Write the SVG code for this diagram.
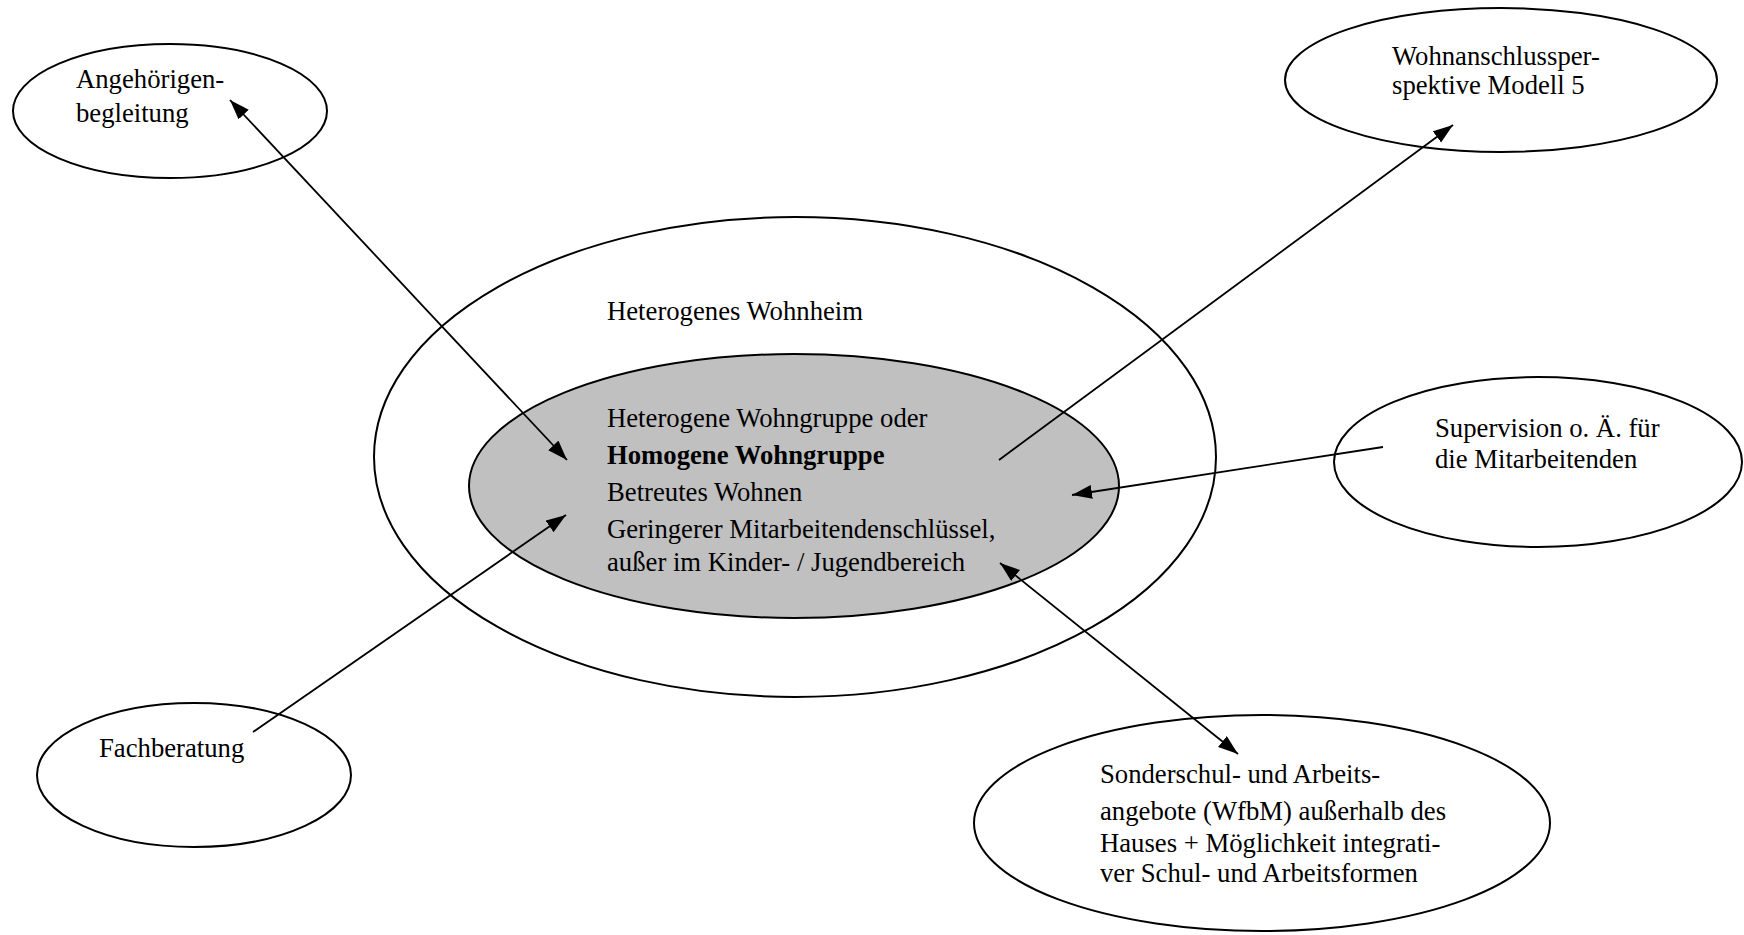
<svg xmlns="http://www.w3.org/2000/svg" width="1744" height="935" viewBox="0 0 1744 935">
  <style>
    .shape { fill: #ffffff; stroke: #000000; stroke-width: 2; }
    .core { fill: #c0c0c0; stroke: #000000; stroke-width: 2; }
    .label { font-family: "Liberation Serif", "Times New Roman", serif; font-size: 26.7px; fill: #000000; }
    .bold { font-weight: bold; }
    .link { stroke: #000000; stroke-width: 1.8; fill: none; }
  </style>
  <defs>
    <marker id="head" markerUnits="userSpaceOnUse" markerWidth="22" markerHeight="16" refX="20" refY="7" orient="auto-start-reverse">
      <path d="M0,0 L20,7 L0,14 z" fill="#000000"/>
    </marker>
  </defs>
  <rect width="1744" height="935" fill="#ffffff"/>

  <!-- central residence: outer home and inner group -->
  <g id="wohnheim">
    <ellipse class="shape" cx="795" cy="457" rx="421" ry="240"/>
    <text class="label" x="607" y="320">Heterogenes Wohnheim</text>
  </g>
  <g id="wohngruppe">
    <ellipse class="core" cx="794" cy="486" rx="325" ry="132"/>
    <text class="label" x="607" y="427">Heterogene Wohngruppe oder</text>
    <text class="label bold" x="607" y="464">Homogene Wohngruppe</text>
    <text class="label" x="607" y="501">Betreutes Wohnen</text>
    <text class="label" x="607" y="538">Geringerer Mitarbeitendenschlüssel,</text>
    <text class="label" x="607" y="571">außer im Kinder- / Jugendbereich</text>
  </g>

  <!-- surrounding services -->
  <g id="angehoerige">
    <ellipse class="shape" cx="170" cy="111" rx="157" ry="67"/>
    <text class="label" x="76" y="88">Angehörigen-</text>
    <text class="label" x="76" y="122">begleitung</text>
  </g>
  <g id="wohnanschluss">
    <ellipse class="shape" cx="1501" cy="80" rx="216" ry="72"/>
    <text class="label" x="1392" y="65">Wohnanschlussper-</text>
    <text class="label" x="1392" y="94">spektive Modell 5</text>
  </g>
  <g id="supervision">
    <ellipse class="shape" cx="1538" cy="462" rx="204" ry="85"/>
    <text class="label" x="1435" y="437">Supervision o. Ä. für</text>
    <text class="label" x="1435" y="468">die Mitarbeitenden</text>
  </g>
  <g id="fachberatung">
    <ellipse class="shape" cx="194" cy="775" rx="157" ry="72"/>
    <text class="label" x="99" y="757">Fachberatung</text>
  </g>
  <g id="sonderschule">
    <ellipse class="shape" cx="1262" cy="823" rx="288" ry="108"/>
    <text class="label" x="1100" y="783">Sonderschul- und Arbeits-</text>
    <text class="label" x="1100" y="820">angebote (WfbM) außerhalb des</text>
    <text class="label" x="1100" y="852">Hauses + Möglichkeit integrati-</text>
    <text class="label" x="1100" y="882">ver Schul- und Arbeitsformen</text>
  </g>

  <!-- connectors -->
  <g id="connectors">
    <line class="link" x1="230" y1="100" x2="567" y2="460" marker-start="url(#head)" marker-end="url(#head)"/>
    <line class="link" x1="999" y1="460" x2="1453" y2="125" marker-end="url(#head)"/>
    <line class="link" x1="1383" y1="447" x2="1072" y2="495" marker-end="url(#head)"/>
    <line class="link" x1="253" y1="732" x2="566" y2="515" marker-end="url(#head)"/>
    <line class="link" x1="1000" y1="563" x2="1238" y2="754" marker-start="url(#head)" marker-end="url(#head)"/>
  </g>
</svg>
